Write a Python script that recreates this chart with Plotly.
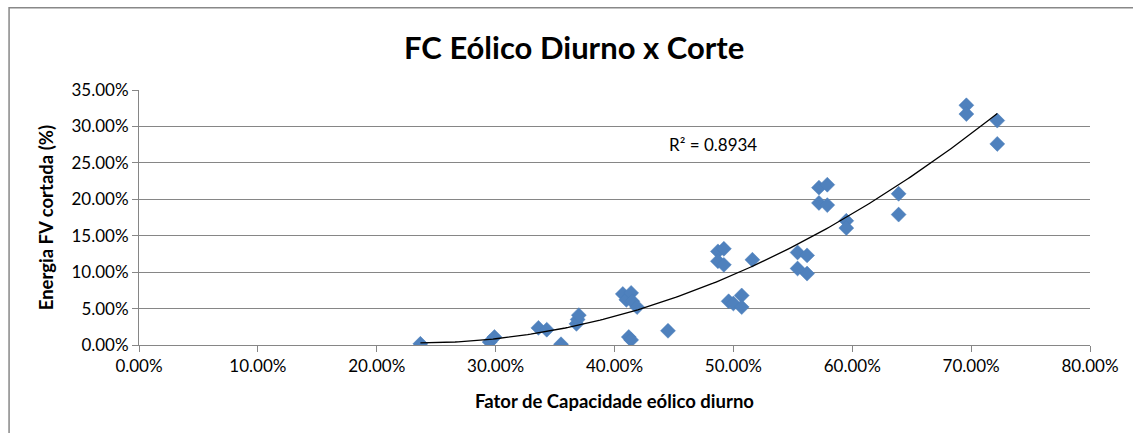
import numpy as np
import plotly.graph_objects as go

# Data (fractions)
fc_eolico = [0.2367, 0.295, 0.299, 0.336, 0.343, 0.355, 0.368, 0.369, 0.370,
             0.407, 0.410, 0.414, 0.415, 0.419, 0.412, 0.414, 0.445,
             0.487, 0.492, 0.487, 0.492, 0.516,
             0.496, 0.500, 0.507, 0.507,
             0.554, 0.562, 0.554, 0.562,
             0.572, 0.579, 0.572, 0.579,
             0.595, 0.595, 0.639, 0.639,
             0.696, 0.696, 0.722, 0.722]
corte = [0.0016, 0.004, 0.011, 0.0235, 0.021, 0.001, 0.029, 0.035, 0.041,
         0.070, 0.062, 0.0715, 0.060, 0.052, 0.011, 0.007, 0.0195,
         0.1285, 0.132, 0.115, 0.110, 0.117,
         0.060, 0.057, 0.068, 0.052,
         0.127, 0.123, 0.105, 0.098,
         0.216, 0.220, 0.195, 0.192,
         0.1705, 0.1605, 0.2075, 0.179,
         0.329, 0.317, 0.308, 0.276]

title_text = "FC Eólico Diurno x Corte"
x_title = "Fator de Capacidade eólico diurno"
y_title = "Energia FV cortada (%)"
r2_label = "R² = 0.8934"

x = np.array(fc_eolico)
y = np.array(corte)
coef = np.polyfit(x, y, 2)
xs = np.linspace(x.min(), x.max(), 200)
ys = np.polyval(coef, xs)

FONT = "Lato, 'Open Sans', sans-serif"

fig = go.Figure()
fig.add_trace(go.Scatter(
    x=fc_eolico, y=corte, mode="markers",
    marker=dict(symbol="diamond", size=11.5, color="#4F81BD",
                line=dict(width=0.5, color="#4A7EBB")),
    showlegend=False, hoverinfo="x+y"))
fig.add_trace(go.Scatter(
    x=xs, y=ys, mode="lines", line=dict(color="black", width=1.3),
    showlegend=False, hoverinfo="skip"))

W, H = 1133, 433
L, R, T, B = 138.5, 1090, 90, 345.5
pw, ph = R - L, B - T

def px(xp):
    return (xp - L) / pw

def py(yp):
    return (B - yp) / ph

fig.update_layout(
    width=W, height=H,
    margin=dict(l=L, r=W - R, t=T, b=H - B, autoexpand=False),
    paper_bgcolor="white", plot_bgcolor="white",
    font=dict(family=FONT, size=13, color="black"),
    xaxis=dict(range=[0, 0.8], dtick=0.1, tickformat=".2%",
               showgrid=False, zeroline=False,
               showline=True, linecolor="#868686", linewidth=1,
               ticks="outside", ticklen=6, tickcolor="#868686",
               tickfont=dict(size=17, family=FONT)),
    yaxis=dict(range=[0, 0.35], dtick=0.05, tickformat=".2%",
               showgrid=True, gridcolor="#868686", gridwidth=1,
               zeroline=False,
               showline=True, linecolor="#868686", linewidth=1,
               ticks="outside", ticklen=6, tickcolor="#868686",
               tickfont=dict(size=17, family=FONT)),
    shapes=[dict(type="rect", xref="paper", yref="paper",
                 x0=px(8.5), x1=px(1200), y0=py(500), y1=py(7.5),
                 line=dict(color="#888888", width=1.5), layer="below")],
    annotations=[
        dict(text="<b>" + title_text + "</b>", xref="paper", yref="paper",
             x=px(574), y=py(47), showarrow=False,
             font=dict(size=31, family=FONT), xanchor="center", yanchor="middle"),
        dict(text="<b>" + x_title + "</b>", xref="paper", yref="paper",
             x=px(614), y=py(402), showarrow=False,
             font=dict(size=18.5, family=FONT), xanchor="center", yanchor="middle"),
        dict(text="<b>" + y_title + "</b>", xref="paper", yref="paper",
             x=px(45), y=py(218), showarrow=False, textangle=-90,
             font=dict(size=18.5, family=FONT), xanchor="center", yanchor="middle"),
        dict(text=r2_label, xref="paper", yref="paper",
             x=px(713), y=py(145), showarrow=False,
             font=dict(size=17, family=FONT), xanchor="center", yanchor="middle"),
    ],
)

fig.write_html("out.html",
               config={"displayModeBar": False},
               post_script="document.body.style.margin='0';document.body.style.overflow='hidden';")
